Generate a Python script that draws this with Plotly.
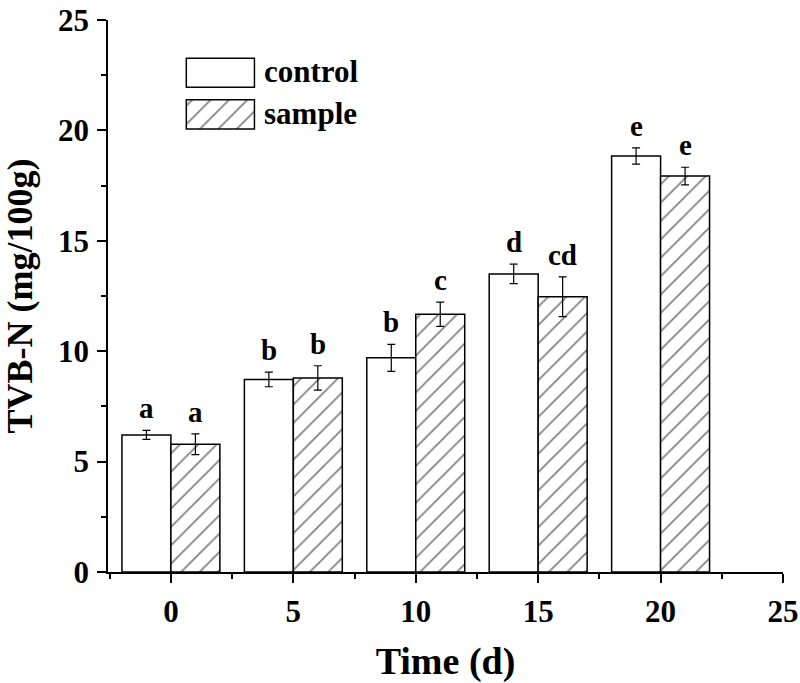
import plotly.graph_objects as go

days = [0, 5, 10, 15, 20]
control = [6.21, 8.72, 9.70, 13.50, 18.84]
control_err = [0.20, 0.33, 0.61, 0.44, 0.37]
sample = [5.79, 8.79, 11.67, 12.47, 17.93]
sample_err = [0.47, 0.55, 0.55, 0.90, 0.40]
control_letters = ["a", "b", "b", "d", "e"]
sample_letters = ["a", "b", "c", "cd", "e"]
series_names = ["control", "sample"]
x_ticks = [0, 5, 10, 15, 20, 25]
y_ticks = [0, 5, 10, 15, 20, 25]

FONT = "Liberation Serif"
HATCH = dict(shape="/", fgcolor="black", bgcolor="white", size=13, solidity=0.13)
fig = go.Figure()

fig.add_trace(go.Bar(
    x=days, y=control, offset=-2, width=2,
    marker=dict(color="white", line=dict(color="black", width=1.5)),
    error_y=dict(type="data", array=control_err, color="black", thickness=1.2, width=4),
    showlegend=False))
fig.add_trace(go.Bar(
    x=days, y=sample, offset=0, width=2,
    marker=dict(color="white", line=dict(color="black", width=1.5), pattern=HATCH),
    error_y=dict(type="data", array=sample_err, color="black", thickness=1.2, width=4),
    showlegend=False))

# legend boxes drawn as bars on a small auxiliary axis
fig.add_trace(go.Bar(
    x=[1], y=[0], orientation="h", width=0.7, base=0,
    marker=dict(color="white", line=dict(color="black", width=1.5)),
    xaxis="x2", yaxis="y2", showlegend=False, hoverinfo="skip"))
fig.add_trace(go.Bar(
    x=[1], y=[1], orientation="h", width=0.7, base=0,
    marker=dict(color="white", line=dict(color="black", width=1.5), pattern=HATCH),
    xaxis="x2", yaxis="y2", showlegend=False, hoverinfo="skip"))

letter_font = dict(family=FONT, size=29, color="black", weight="bold")
annotations = []
for d, v, e, t in zip(days, control, control_err, control_letters):
    annotations.append(dict(x=d - 1, y=v + e, text=t, showarrow=False, yanchor="bottom",
                            yshift=4, font=letter_font))
for d, v, e, t in zip(days, sample, sample_err, sample_letters):
    annotations.append(dict(x=d + 1, y=v + e, text=t, showarrow=False, yanchor="bottom",
                            yshift=4, font=letter_font))
for i, name in enumerate(series_names):
    annotations.append(dict(xref="x2 domain", yref="y2", x=1, y=i, xshift=6, yshift=1, text=name,
                            showarrow=False, xanchor="left", yanchor="middle",
                            font=dict(family=FONT, size=31, color="black", weight="bold")))

axis_common = dict(showline=True, linecolor="black", linewidth=1.5, ticks="outside", ticklen=9,
                   tickwidth=1.5, tickcolor="black", showgrid=False, zeroline=False, automargin=False,
                   tickfont=dict(family=FONT, size=31, color="black", weight="bold"))
minor_common = dict(dtick=2.5, tick0=0, ticks="outside", ticklen=5, tickwidth=1.5,
                    tickcolor="black", showgrid=False)

fig.update_layout(
    width=800, height=683,
    margin=dict(l=108, r=17, t=19.5, b=111),
    paper_bgcolor="white", plot_bgcolor="white",
    barmode="overlay",
    font=dict(family=FONT, size=22, color="black", weight="bold"),
    annotations=annotations,
    xaxis=dict(range=[-2.57, 25], tickvals=x_ticks, minor=minor_common, ticklabelstandoff=2,
               title=dict(text="Time (d)", font=dict(family=FONT, size=38, weight="bold"), standoff=20),
               **axis_common),
    yaxis=dict(range=[0, 25], tickvals=y_ticks, minor=minor_common, ticklabelstandoff=2,
               title=dict(text="TVB-N (mg/100g)", font=dict(family=FONT, size=36, weight="bold"), standoff=24),
               **axis_common),
    xaxis2=dict(domain=[0.114, 0.219], range=[-0.02, 1.02], anchor="y2", visible=False, fixedrange=True),
    yaxis2=dict(domain=[0.7914, 0.942], range=[1.5, -0.5], anchor="x2", visible=False, fixedrange=True),
)

fig.write_html("out.html", config={"displayModeBar": False},
               post_script="document.body.style.margin='0';")
